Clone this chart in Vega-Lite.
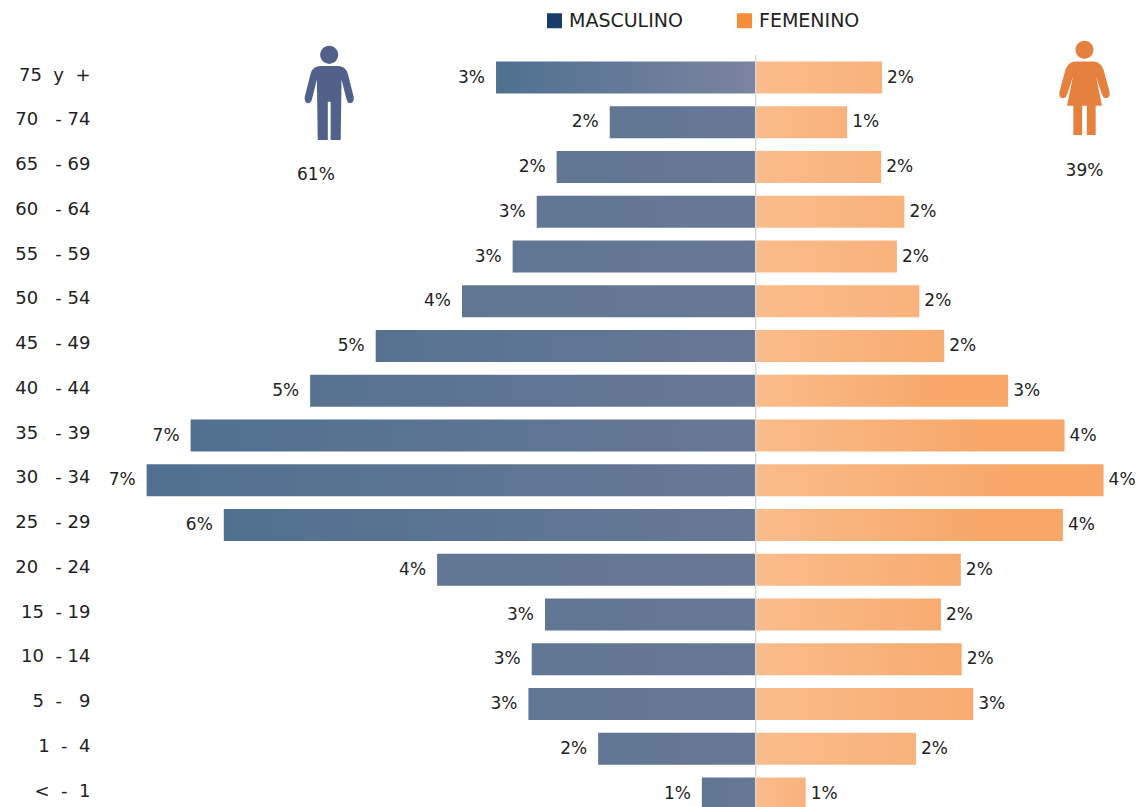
{"$schema":"https://vega.github.io/schema/vega-lite/v6.json","width":1142,"height":807,"padding":0,"autosize":{"type":"none"},"background":"#ffffff","config":{"view":{"stroke":null},"font":"DejaVu Sans"},
"datasets":{"filas":[
{"grupo":"75\u00a0 y\u00a0 +","sexo":"MASCULINO","valor":-3.12,"etiqueta":"3%"},{"grupo":"70\u00a0\u00a0 - 74","sexo":"MASCULINO","valor":-1.75,"etiqueta":"2%"},{"grupo":"65\u00a0\u00a0 - 69","sexo":"MASCULINO","valor":-2.39,"etiqueta":"2%"},{"grupo":"60\u00a0\u00a0 - 64","sexo":"MASCULINO","valor":-2.63,"etiqueta":"3%"},{"grupo":"55\u00a0\u00a0 - 59","sexo":"MASCULINO","valor":-2.92,"etiqueta":"3%"},{"grupo":"50\u00a0\u00a0 - 54","sexo":"MASCULINO","valor":-3.53,"etiqueta":"4%"},{"grupo":"45\u00a0\u00a0 - 49","sexo":"MASCULINO","valor":-4.57,"etiqueta":"5%"},{"grupo":"40\u00a0\u00a0 - 44","sexo":"MASCULINO","valor":-5.36,"etiqueta":"5%"},{"grupo":"35\u00a0\u00a0 - 39","sexo":"MASCULINO","valor":-6.8,"etiqueta":"7%"},{"grupo":"30\u00a0\u00a0 - 34","sexo":"MASCULINO","valor":-7.33,"etiqueta":"7%"},{"grupo":"25\u00a0\u00a0 - 29","sexo":"MASCULINO","valor":-6.4,"etiqueta":"6%"},{"grupo":"20\u00a0\u00a0 - 24","sexo":"MASCULINO","valor":-3.83,"etiqueta":"4%"},{"grupo":"15\u00a0 - 19","sexo":"MASCULINO","valor":-2.53,"etiqueta":"3%"},{"grupo":"10\u00a0 - 14","sexo":"MASCULINO","valor":-2.69,"etiqueta":"3%"},{"grupo":"5\u00a0 -\u00a0\u00a0 9","sexo":"MASCULINO","valor":-2.73,"etiqueta":"3%"},{"grupo":"1\u00a0 -\u00a0 4","sexo":"MASCULINO","valor":-1.89,"etiqueta":"2%"},{"grupo":"<\u00a0 -\u00a0 1","sexo":"MASCULINO","valor":-0.64,"etiqueta":"1%"},
{"grupo":"75\u00a0 y\u00a0 +","sexo":"FEMENINO","valor":1.53,"etiqueta":"2%"},{"grupo":"70\u00a0\u00a0 - 74","sexo":"FEMENINO","valor":1.11,"etiqueta":"1%"},{"grupo":"65\u00a0\u00a0 - 69","sexo":"FEMENINO","valor":1.52,"etiqueta":"2%"},{"grupo":"60\u00a0\u00a0 - 64","sexo":"FEMENINO","valor":1.8,"etiqueta":"2%"},{"grupo":"55\u00a0\u00a0 - 59","sexo":"FEMENINO","valor":1.71,"etiqueta":"2%"},{"grupo":"50\u00a0\u00a0 - 54","sexo":"FEMENINO","valor":1.98,"etiqueta":"2%"},{"grupo":"45\u00a0\u00a0 - 49","sexo":"FEMENINO","valor":2.28,"etiqueta":"2%"},{"grupo":"40\u00a0\u00a0 - 44","sexo":"FEMENINO","valor":3.05,"etiqueta":"3%"},{"grupo":"35\u00a0\u00a0 - 39","sexo":"FEMENINO","valor":3.73,"etiqueta":"4%"},{"grupo":"30\u00a0\u00a0 - 34","sexo":"FEMENINO","valor":4.2,"etiqueta":"4%"},{"grupo":"25\u00a0\u00a0 - 29","sexo":"FEMENINO","valor":3.71,"etiqueta":"4%"},{"grupo":"20\u00a0\u00a0 - 24","sexo":"FEMENINO","valor":2.48,"etiqueta":"2%"},{"grupo":"15\u00a0 - 19","sexo":"FEMENINO","valor":2.24,"etiqueta":"2%"},{"grupo":"10\u00a0 - 14","sexo":"FEMENINO","valor":2.49,"etiqueta":"2%"},{"grupo":"5\u00a0 -\u00a0\u00a0 9","sexo":"FEMENINO","valor":2.63,"etiqueta":"3%"},{"grupo":"1\u00a0 -\u00a0 4","sexo":"FEMENINO","valor":1.94,"etiqueta":"2%"},{"grupo":"<\u00a0 -\u00a0 1","sexo":"FEMENINO","valor":0.61,"etiqueta":"1%"}],
"resumenM":[{"grupo":"75\u00a0 y\u00a0 +","valor":-5.13}],"resumenF":[{"grupo":"75\u00a0 y\u00a0 +","valor":3.97}],"resumenTM":[{"grupo":"65\u00a0\u00a0 - 69","valor":-5.29,"texto":"61%"}],"resumenTF":[{"grupo":"65\u00a0\u00a0 - 69","valor":3.97,"texto":"39%"}]},
"encoding":{"y":{"field":"grupo","type":"nominal","sort":null,"title":null,"scale":{"domain":["75\u00a0 y\u00a0 +","70\u00a0\u00a0 - 74","65\u00a0\u00a0 - 69","60\u00a0\u00a0 - 64","55\u00a0\u00a0 - 59","50\u00a0\u00a0 - 54","45\u00a0\u00a0 - 49","40\u00a0\u00a0 - 44","35\u00a0\u00a0 - 39","30\u00a0\u00a0 - 34","25\u00a0\u00a0 - 29","20\u00a0\u00a0 - 24","15\u00a0 - 19","10\u00a0 - 14","5\u00a0 -\u00a0\u00a0 9","1\u00a0 -\u00a0 4","<\u00a0 -\u00a0 1"],"range":[55.2,816],"padding":0},"axis":{"offset":-95,"domain":false,"ticks":false,"labelPadding":5,"labelFont":"DejaVu Sans","labelFontSize":18,"labelColor":"#222222","labelOffset":-2}},
"x":{"field":"valor","type":"quantitative","title":null,"scale":{"domain":[-9.0964,4.6627],"range":[0,1142],"nice":false,"zero":false},"axis":null}},
"layer":[
{"data":{"name":"filas"},"mark":{"type":"bar","opacity":0,"height":{"band":0.7}},"encoding":{"x":{"datum":0,"type":"quantitative"},"x2":{"field":"valor"},"color":{"field":"sexo","type":"nominal","title":null,"scale":{"domain":["MASCULINO","FEMENINO"],"range":["#1a3c6a","#f68d39"]},"legend":{"orient":"none","legendX":545,"legendY":11,"direction":"horizontal","symbolType":"square","symbolSize":225,"symbolOpacity":1,"symbolStrokeWidth":0,"labelFont":"DejaVu Sans","labelFontSize":19,"labelColor":"#222222","columnPadding":52,"labelOffset":5,"title":null}}}},
{"data":{"name":"filas"},"transform":[{"filter":"datum.sexo=='MASCULINO' && datum.valor<=-6"}],"mark":{"type":"bar","height":{"band":0.715},"color":{"gradient":"linear","x1":0,"y1":0,"x2":1,"y2":0,"stops":[{"offset":0,"color":"#517090"},{"offset":1,"color":"#677895"}]}},"encoding":{"x":{"datum":0,"type":"quantitative"},"x2":{"field":"valor"}}},
{"data":{"name":"filas"},"transform":[{"filter":"datum.sexo=='MASCULINO' && datum.valor>-6 && datum.valor<=-4"}],"mark":{"type":"bar","height":{"band":0.715},"color":{"gradient":"linear","x1":0,"y1":0,"x2":1,"y2":0,"stops":[{"offset":0,"color":"#577291"},{"offset":1,"color":"#677895"}]}},"encoding":{"x":{"datum":0,"type":"quantitative"},"x2":{"field":"valor"}}},
{"data":{"name":"filas"},"transform":[{"filter":"datum.sexo=='MASCULINO' && datum.valor>-4 && datum.grupo!='75\u00a0 y\u00a0 +'"}],"mark":{"type":"bar","height":{"band":0.715},"color":{"gradient":"linear","x1":0,"y1":0,"x2":1,"y2":0,"stops":[{"offset":0,"color":"#607692"},{"offset":1,"color":"#677895"}]}},"encoding":{"x":{"datum":0,"type":"quantitative"},"x2":{"field":"valor"}}},
{"data":{"name":"filas"},"transform":[{"filter":"datum.sexo=='MASCULINO' && datum.grupo=='75\u00a0 y\u00a0 +'"}],"mark":{"type":"bar","height":{"band":0.715},"color":{"gradient":"linear","x1":0,"y1":0,"x2":1,"y2":0,"stops":[{"offset":0,"color":"#4f7090"},{"offset":1,"color":"#7b84a0"}]}},"encoding":{"x":{"datum":0,"type":"quantitative"},"x2":{"field":"valor"}}},
{"data":{"name":"filas"},"transform":[{"filter":"datum.sexo=='FEMENINO' && datum.valor>=3"}],"mark":{"type":"bar","height":{"band":0.715},"color":{"gradient":"linear","x1":0,"y1":0,"x2":1,"y2":0,"stops":[{"offset":0,"color":"#fabc8b"},{"offset":0.75,"color":"#f7a768"},{"offset":1,"color":"#f7a768"}]}},"encoding":{"x":{"datum":0,"type":"quantitative"},"x2":{"field":"valor"}}},
{"data":{"name":"filas"},"transform":[{"filter":"datum.sexo=='FEMENINO' && datum.valor<3 && datum.valor>=2.2"}],"mark":{"type":"bar","height":{"band":0.715},"color":{"gradient":"linear","x1":0,"y1":0,"x2":1,"y2":0,"stops":[{"offset":0,"color":"#fabc8b"},{"offset":1,"color":"#f8ab70"}]}},"encoding":{"x":{"datum":0,"type":"quantitative"},"x2":{"field":"valor"}}},
{"data":{"name":"filas"},"transform":[{"filter":"datum.sexo=='FEMENINO' && datum.valor<2.2"}],"mark":{"type":"bar","height":{"band":0.715},"color":{"gradient":"linear","x1":0,"y1":0,"x2":1,"y2":0,"stops":[{"offset":0,"color":"#fabc8b"},{"offset":1,"color":"#f9b27c"}]}},"encoding":{"x":{"datum":0,"type":"quantitative"},"x2":{"field":"valor"}}},
{"data":{"name":"filas"},"transform":[{"filter":"datum.sexo=='FEMENINO'"}],"mark":{"type":"bar","height":{"band":1.02},"color":"#d3d6da"},"encoding":{"x":{"datum":0,"type":"quantitative"},"x2":{"datum":0.016}}},
{"data":{"name":"filas"},"transform":[{"filter":"datum.sexo=='MASCULINO'"}],"mark":{"type":"text","align":"right","dx":-11,"font":"DejaVu Sans","fontSize":17,"color":"#222222"},"encoding":{"text":{"field":"etiqueta"}}},
{"data":{"name":"filas"},"transform":[{"filter":"datum.sexo=='FEMENINO'"}],"mark":{"type":"text","align":"left","dx":5,"font":"DejaVu Sans","fontSize":17,"color":"#222222"},"encoding":{"text":{"field":"etiqueta"}}},
{"data":{"name":"resumenM"},"mark":{"type":"point","filled":true,"size":8649,"opacity":1,"yOffset":15.8,"color":"#52618a","shape":"M-0.194,-0.828 A0.194,0.194 0 1 1 0.194,-0.828 A0.194,0.194 0 1 1 -0.194,-0.828 Z M-0.2,-0.59 L0.2,-0.59 Q0.36,-0.58 0.40,-0.42 L0.527,0.08 Q0.54,0.2 0.46,0.21 Q0.39,0.21 0.37,0.12 L0.265,-0.3 L0.247,1 L0.03,1 L0.03,0.18 L-0.03,0.18 L-0.03,1 L-0.247,1 L-0.265,-0.3 L-0.37,0.12 Q-0.39,0.21 -0.46,0.21 Q-0.54,0.2 -0.527,0.08 L-0.40,-0.42 Q-0.36,-0.58 -0.2,-0.59 Z"}},
{"data":{"name":"resumenF"},"mark":{"type":"point","filled":true,"size":8649,"opacity":1,"yOffset":10.8,"color":"#e6803f","shape":"M-0.194,-0.828 A0.194,0.194 0 1 1 0.194,-0.828 A0.194,0.194 0 1 1 -0.194,-0.828 Z M-0.2,-0.576 L0.2,-0.576 Q0.36,-0.56 0.41,-0.4 L0.54,0.08 Q0.56,0.2 0.47,0.21 Q0.4,0.21 0.37,0.12 L0.25,-0.25 L0.376,0.376 L0.24,0.376 L0.24,1 L0.05,1 L0.05,0.376 L-0.05,0.376 L-0.05,1 L-0.24,1 L-0.24,0.376 L-0.376,0.376 L-0.25,-0.25 L-0.37,0.12 Q-0.4,0.21 -0.47,0.21 Q-0.56,0.2 -0.54,0.08 L-0.41,-0.4 Q-0.36,-0.56 -0.2,-0.576 Z"}},
{"data":{"name":"resumenTM"},"mark":{"type":"text","dy":7.5,"font":"DejaVu Sans","fontSize":17,"color":"#222222"},"encoding":{"text":{"field":"texto"}}},
{"data":{"name":"resumenTF"},"mark":{"type":"text","dy":3.5,"font":"DejaVu Sans","fontSize":17,"color":"#222222"},"encoding":{"text":{"field":"texto"}}}
]}
